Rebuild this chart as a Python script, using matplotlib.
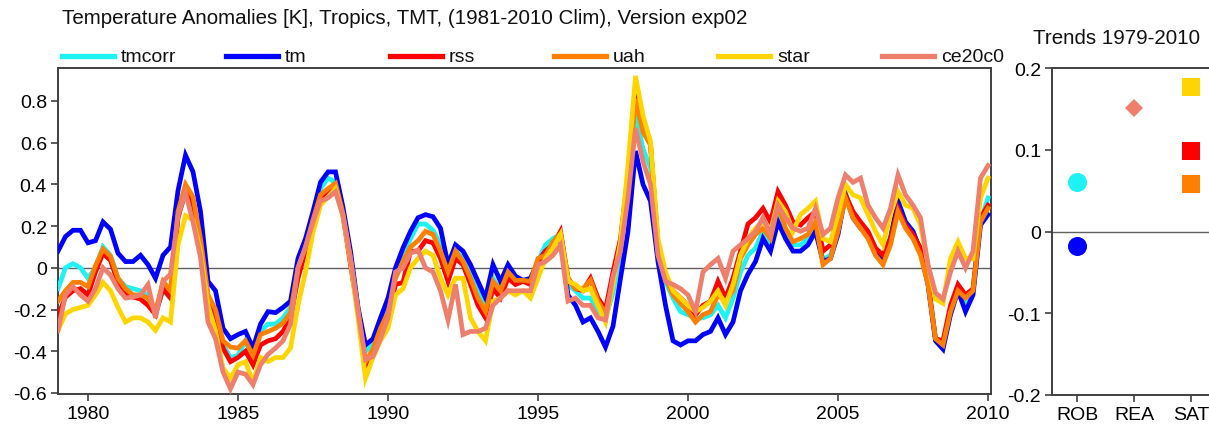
import matplotlib
matplotlib.use("Agg")
import matplotlib.pyplot as plt
import numpy as np
from matplotlib.lines import Line2D
from matplotlib.ticker import FuncFormatter, FixedLocator

plt.rcParams['font.family'] = ['Liberation Sans', 'DejaVu Sans']

# ---------------- data (quarterly samples) ----------------
start_year = 1979.0
step = 0.25

tmcorr = [-0.10, 0.00, 0.02, 0.00, -0.05, 0.00, 0.10, 0.06, -0.05, -0.09,
          -0.10, -0.11, -0.13, -0.21, -0.11, -0.145, 0.25, 0.35, 0.30, 0.13,
          -0.145, -0.225, -0.37, -0.43, -0.42, -0.35, -0.43, -0.305, -0.27, -0.27,
          -0.24, -0.19, 0.015, 0.11, 0.24, 0.38, 0.43, 0.41, 0.27, 0.06,
          -0.19, -0.40, -0.37, -0.27, -0.18, -0.03, 0.06, 0.14, 0.21, 0.21,
          0.18, 0.11, -0.02, 0.08, 0.045, -0.03, -0.11, -0.21, -0.05, -0.11,
          -0.02, -0.065, -0.065, -0.08, 0.03, 0.11, 0.14, 0.16, -0.08, -0.11,
          -0.145, -0.145, -0.21, -0.24, -0.12, 0.08, 0.37, 0.74, 0.57, 0.48,
          0.06, -0.065, -0.145, -0.21, -0.225, -0.24, -0.24, -0.225, -0.18, -0.24,
          -0.145, -0.02, 0.06, 0.095, 0.175, 0.11, 0.255, 0.175, 0.11, 0.11,
          0.14, 0.19, 0.04, 0.06, 0.17, 0.36, 0.25, 0.20, 0.17, 0.09,
          0.055, 0.15, 0.32, 0.22, 0.175, 0.085, -0.07, -0.34, -0.37, -0.21,
          -0.10, -0.16, -0.12, 0.22, 0.335]

tm = [0.08, 0.15, 0.18, 0.18, 0.12, 0.13, 0.22, 0.185, 0.07, 0.03,
      0.03, 0.06, 0.015, -0.05, 0.06, 0.10, 0.37, 0.54, 0.46, 0.27,
      -0.065, -0.11, -0.29, -0.34, -0.32, -0.305, -0.385, -0.27, -0.21, -0.215,
      -0.19, -0.16, 0.045, 0.14, 0.27, 0.41, 0.46, 0.46, 0.29, 0.08,
      -0.19, -0.37, -0.34, -0.24, -0.145, 0.00, 0.095, 0.175, 0.24, 0.255,
      0.245, 0.19, 0.015, 0.11, 0.08, 0.015, -0.065, -0.145, 0.015, -0.065,
      0.015, -0.04, -0.06, -0.05, 0.03, 0.08, 0.11, 0.14, -0.13, -0.18,
      -0.26, -0.24, -0.305, -0.38, -0.28, -0.05, 0.175, 0.56, 0.40, 0.32,
      0.03, -0.18, -0.35, -0.37, -0.35, -0.35, -0.32, -0.305, -0.24, -0.32,
      -0.26, -0.11, -0.03, 0.03, 0.14, 0.08, 0.22, 0.14, 0.08, 0.08,
      0.11, 0.175, 0.03, 0.045, 0.16, 0.35, 0.24, 0.19, 0.16, 0.08,
      0.045, 0.14, 0.32, 0.22, 0.175, 0.08, -0.08, -0.35, -0.39, -0.225,
      -0.11, -0.21, -0.13, 0.205, 0.255]

rss = [-0.23, -0.14, -0.11, -0.10, -0.13, -0.02, 0.07, 0.035, -0.07, -0.13,
       -0.14, -0.15, -0.18, -0.225, -0.10, -0.145, 0.24, 0.37, 0.31, 0.11,
       -0.145, -0.24, -0.385, -0.45, -0.43, -0.40, -0.465, -0.37, -0.35, -0.34,
       -0.305, -0.24, -0.05, 0.08, 0.22, 0.34, 0.365, 0.40, 0.25, 0.015,
       -0.21, -0.50, -0.40, -0.32, -0.24, -0.08, -0.07, 0.08, 0.08, 0.13,
       0.12, 0.045, -0.065, 0.045, 0.015, -0.08, -0.18, -0.24, -0.10, -0.145,
       -0.05, -0.08, -0.065, -0.08, 0.03, 0.08, 0.11, 0.175, -0.05, -0.10,
       -0.11, -0.05, -0.145, -0.20, -0.02, 0.14, 0.445, 0.84, 0.67, 0.59,
       0.11, -0.05, -0.11, -0.145, -0.18, -0.225, -0.18, -0.16, -0.065, -0.145,
       -0.05, 0.08, 0.21, 0.24, 0.285, 0.22, 0.365, 0.30, 0.22, 0.205,
       0.24, 0.27, 0.08, 0.11, 0.205, 0.35, 0.27, 0.22, 0.175, 0.095,
       0.06, 0.14, 0.285, 0.205, 0.16, 0.095, -0.065, -0.34, -0.35, -0.18,
       -0.08, -0.13, -0.10, 0.24, 0.30]

uah = [-0.16, -0.11, -0.07, -0.07, -0.09, 0.01, 0.09, 0.055, -0.05, -0.10,
       -0.13, -0.13, -0.145, -0.21, -0.065, -0.11, 0.27, 0.40, 0.34, 0.14,
       -0.13, -0.20, -0.35, -0.38, -0.385, -0.35, -0.42, -0.32, -0.305, -0.29,
       -0.265, -0.215, 0.00, 0.10, 0.23, 0.35, 0.38, 0.405, 0.26, 0.045,
       -0.20, -0.45, -0.39, -0.29, -0.215, -0.05, 0.03, 0.10, 0.13, 0.175,
       0.16, 0.08, -0.02, 0.08, 0.03, -0.05, -0.145, -0.21, -0.065, -0.11,
       -0.02, -0.06, -0.06, -0.065, 0.045, 0.06, 0.125, 0.165, -0.05, -0.10,
       -0.10, -0.06, -0.16, -0.22, -0.06, 0.11, 0.41, 0.81, 0.65, 0.59,
       0.095, -0.05, -0.13, -0.17, -0.21, -0.26, -0.225, -0.21, -0.13, -0.16,
       -0.11, 0.045, 0.11, 0.16, 0.19, 0.14, 0.30, 0.19, 0.125, 0.14,
       0.16, 0.22, 0.015, 0.045, 0.175, 0.335, 0.24, 0.19, 0.14, 0.06,
       0.015, 0.11, 0.27, 0.19, 0.14, 0.06, -0.08, -0.34, -0.37, -0.21,
       -0.11, -0.145, -0.11, 0.22, 0.285]

star = [-0.30, -0.22, -0.20, -0.19, -0.18, -0.13, -0.07, -0.11, -0.19, -0.26,
        -0.24, -0.24, -0.26, -0.30, -0.24, -0.26, 0.11, 0.25, 0.23, 0.08,
        -0.18, -0.30, -0.48, -0.53, -0.465, -0.45, -0.55, -0.43, -0.45, -0.43,
        -0.43, -0.385, -0.18, -0.02, 0.17, 0.30, 0.34, 0.38, 0.245, 0.03,
        -0.24, -0.53, -0.43, -0.35, -0.29, -0.13, -0.10, 0.00, 0.045, 0.08,
        0.06, -0.05, -0.13, -0.05, -0.05, -0.24, -0.305, -0.35, -0.16, -0.145,
        -0.11, -0.13, -0.11, -0.145, -0.05, 0.045, 0.095, 0.16, -0.065, -0.08,
        -0.11, -0.10, -0.18, -0.26, -0.08, 0.125, 0.49, 0.92, 0.73, 0.605,
        0.14, -0.02, -0.11, -0.145, -0.18, -0.21, -0.19, -0.16, -0.11, -0.18,
        -0.08, 0.06, 0.14, 0.19, 0.22, 0.175, 0.32, 0.27, 0.175, 0.255,
        0.285, 0.32, 0.14, 0.125, 0.255, 0.40, 0.35, 0.335, 0.255, 0.175,
        0.11, 0.255, 0.365, 0.30, 0.285, 0.205, 0.015, -0.15, -0.17, 0.045,
        0.125, 0.045, 0.045, 0.335, 0.43]

ce20c0 = [-0.30, -0.13, -0.09, -0.13, -0.16, -0.10, 0.00, -0.035, -0.10, -0.145,
          -0.14, -0.13, -0.08, -0.24, -0.065, -0.03, 0.25, 0.36, 0.22, 0.05,
          -0.26, -0.34, -0.50, -0.58, -0.50, -0.51, -0.56, -0.465, -0.415, -0.385,
          -0.35, -0.27, 0.00, 0.10, 0.22, 0.32, 0.335, 0.365, 0.25, 0.045,
          -0.21, -0.44, -0.425, -0.34, -0.24, -0.02, 0.00, 0.07, 0.085, 0.00,
          -0.02, -0.11, -0.25, -0.08, -0.32, -0.305, -0.305, -0.29, -0.18, -0.145,
          -0.11, -0.11, -0.11, -0.11, 0.015, 0.03, 0.06, 0.11, -0.16, -0.145,
          -0.18, -0.18, -0.24, -0.25, -0.04, 0.08, 0.335, 0.67, 0.51, 0.40,
          0.06, -0.065, -0.08, -0.10, -0.13, -0.21, -0.02, 0.015, 0.045, -0.05,
          0.08, 0.11, 0.14, 0.175, 0.24, 0.16, 0.30, 0.24, 0.19, 0.175,
          0.19, 0.285, 0.16, 0.19, 0.335, 0.445, 0.41, 0.43, 0.30, 0.24,
          0.19, 0.285, 0.445, 0.35, 0.30, 0.24, 0.015, -0.12, -0.15, -0.02,
          0.08, 0.00, 0.08, 0.43, 0.49]

series_names = ["tmcorr", "tm", "rss", "uah", "star", "ce20c0"]
series_values = [tmcorr, tm, rss, uah, star, ce20c0]
series_colors = ["#1EF2F2", "#0000FF", "#FF0000", "#FF8000", "#FFD500", "#EE7F6C"]

# trends 1979-2010 (K/decade)
trend_categories = ["ROB", "REA", "SAT"]
trend_names = ["tmcorr", "tm", "ce20c0", "star", "rss", "uah"]
trend_groups = ["ROB", "ROB", "REA", "SAT", "SAT", "SAT"]
trend_values = [0.060, -0.018, 0.151, 0.177, 0.098, 0.058]
trend_markers = {"ROB": "o", "REA": "D", "SAT": "s"}
trend_msize = {"ROB": 13.7, "REA": 8.8, "SAT": 13.0}

main_title = "Temperature Anomalies [K], Tropics, TMT, (1981-2010 Clim), Version exp02"
trend_title = "Trends 1979-2010"
year_ticks = [1980, 1985, 1990, 1995, 2000, 2005, 2010]
anom_ticks = [-0.6, -0.4, -0.2, 0.0, 0.2, 0.4, 0.6, 0.8]
trend_ticks = [-0.2, -0.1, 0.0, 0.1, 0.2]

# ---------------- figure ----------------
W, H = 1209, 431
fig = plt.figure(figsize=(W / 100, H / 100), dpi=100)

def box(l, t, r, b):
    return [l / W, 1 - b / H, (r - l) / W, (b - t) / H]

spine_col = "#404040"
fs = 14
title_fs = 14.8

ax = fig.add_axes(box(58, 69, 991, 395))
n = len(tm)
years = start_year + step * np.arange(n)
for name, vals, col in zip(series_names, series_values, series_colors):
    ax.plot(years, vals, color=col, lw=3.4, solid_joinstyle="miter", zorder=3)
ax.axhline(0, color="#606060", lw=1.0, zorder=2)
ax.set_xlim(1979.0, 2010.1)
ax.set_ylim(-0.605, 0.958)
ax.xaxis.set_major_locator(FixedLocator(year_ticks))
ax.yaxis.set_major_locator(FixedLocator(anom_ticks))
fmt = FuncFormatter(lambda v, p: "%g" % round(v, 2))
ax.yaxis.set_major_formatter(fmt)
ax.tick_params(labelsize=fs, length=5, width=1.2, color=spine_col, pad=3)
for s in ax.spines.values():
    s.set_color(spine_col)
    s.set_linewidth(1.4)

# trends panel
ax2 = fig.add_axes(box(1052, 69, 1230, 396))
pos = {c: i + 1 for i, c in enumerate(trend_categories)}
col_of = dict(zip(series_names, series_colors))
for nm, grp, val in zip(trend_names, trend_groups, trend_values):
    ax2.plot([pos[grp]], [val], marker=trend_markers[grp], ms=trend_msize[grp],
             color=col_of[nm], mew=0, ls="none", zorder=3)
ax2.axhline(0, color="#606060", lw=1.0, zorder=2)
ax2.set_xlim(1 - 25 / 57, 1 + (1230 - 1077) / 57)
ax2.set_ylim(-0.2, 0.2)
ax2.set_xticks([pos[c] for c in trend_categories])
ax2.set_xticklabels(trend_categories)
ax2.yaxis.set_major_locator(FixedLocator(trend_ticks))
ax2.yaxis.set_major_formatter(fmt)
ax2.tick_params(labelsize=fs, length=5, width=1.2, color=spine_col, pad=3)
for s in ax2.spines.values():
    s.set_color(spine_col)
    s.set_linewidth(1.4)

# titles
fig.text(62 / W, 1 - 18 / H, main_title, fontsize=title_fs, va="center", ha="left", color="#111111")
fig.text(1117 / W, 1 - 38 / H, trend_title, fontsize=title_fs, va="center", ha="center", color="#111111")

# legend row
leg_y = 1 - 57 / H
for i, (name, col) in enumerate(zip(series_names, series_colors)):
    x0 = 62 + 164 * i
    fig.add_artist(Line2D([x0 / W, (x0 + 52) / W], [leg_y, leg_y], color=col, lw=3.8,
                          transform=fig.transFigure))
    fig.text((x0 + 59) / W, leg_y, name, fontsize=fs, va="center", ha="left", color="#111111")

fig.savefig("out.png", dpi=100)
